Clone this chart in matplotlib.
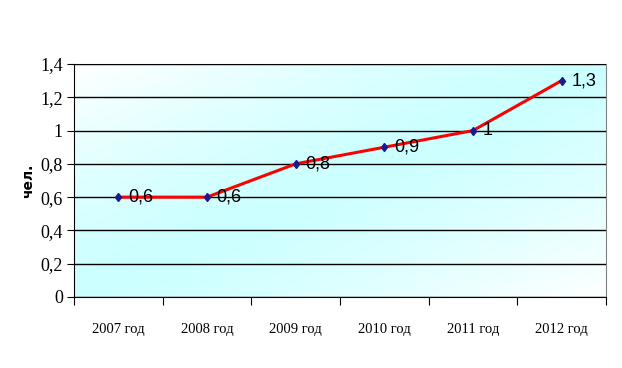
import matplotlib.pyplot as plt
import numpy as np
from matplotlib.colors import LinearSegmentedColormap

years = ["2007 год", "2008 год", "2009 год", "2010 год", "2011 год", "2012 год"]
values = [0.6, 0.6, 0.8, 0.9, 1.0, 1.3]
labels = ["0,6", "0,6", "0,8", "0,9", "1", "1,3"]

fig = plt.figure(figsize=(6.22, 3.68), dpi=100)
ax = fig.add_axes([0.119, 0.193, 0.855, 0.633])

x = np.arange(len(years))
ax.set_xlim(-0.5, len(years) - 0.5)
ax.set_ylim(0, 1.4)

# diagonal gradient: cyan in the middle band, white at top-left / bottom-right corners
u, v = np.meshgrid(np.linspace(0, 1, 300), np.linspace(0, 1, 300))
t = np.abs(u - v) ** 1.3
cmap = LinearSegmentedColormap.from_list("bg", ["#ccffff", "#ffffff"])
ax.imshow(t, cmap=cmap, extent=[-0.5, len(years) - 0.5, 0, 1.4],
          origin="lower", aspect="auto", zorder=0, vmin=0, vmax=1)

ax.set_yticks(np.arange(0, 1.41, 0.2))
ax.set_yticklabels(["0", "0,2", "0,4", "0,6", "0,8", "1", "1,2", "1,4"],
                   family="Liberation Serif", fontsize=13)
ax.yaxis.grid(True, color="black", linewidth=1)
ax.set_axisbelow(False)

ax.set_xticks(np.arange(-0.5, len(years), 1))
ax.set_xticklabels([])
ax.set_xticks(x, minor=True)
ax.set_xticklabels(years, minor=True, family="Liberation Serif", fontsize=10.5)
ax.tick_params(axis="x", which="minor", length=0, pad=19)
ax.tick_params(axis="x", which="major", length=6, direction="out", color="black")
ax.tick_params(axis="y", length=5, direction="out", pad=3)

for s in ["top", "right"]:
    ax.spines[s].set_color("#808080")
for s in ["left", "bottom"]:
    ax.spines[s].set_color("black")

ax.plot(x, values, color="red", linewidth=2.2, zorder=3)
ax.plot(x, values, linestyle="none", marker="d", markersize=4.5,
        markerfacecolor="#1a1a90", markeredgecolor="#1a1a90", zorder=4)

for xi, yi, lab in zip(x, values, labels):
    ax.annotate(lab, (xi, yi), xytext=(7, 0), textcoords="offset points",
                va="center", ha="left", fontsize=13, family="Liberation Sans",
                zorder=5)

ax.set_ylabel("чел.", family="DejaVu Sans", fontweight="bold", fontsize=10,
              labelpad=4)

fig.savefig("out.png", dpi=100)
